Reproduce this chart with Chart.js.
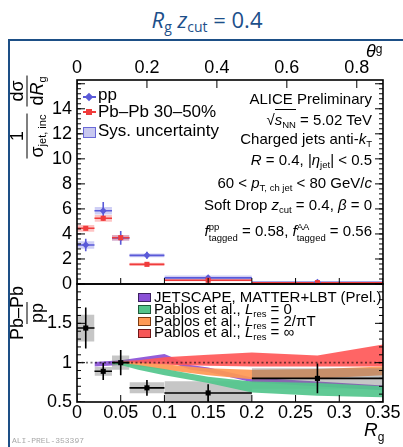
<!DOCTYPE html>
<html>
<head>
<meta charset="utf-8">
<script src="https://cdn.jsdelivr.net/npm/chart.js@4.4.1/dist/chart.umd.min.js"></script>
<style>
  html, body { margin: 0; padding: 0; background: #fff; }
  #stage { position: relative; width: 403px; height: 447px; overflow: hidden;
           font-family: "Liberation Sans", Arial, sans-serif; color: #000; }
  canvas { position: absolute; left: 0; }
  #cUp { top: 40px; }
  #cLo { top: 270px; }
  .t { position: absolute; white-space: nowrap; }
  .rule { position: absolute; background: #1d4f86; }
  #title { left: 207px; top: 4px; transform: translateX(-50%); font-family: "Open Sans", sans-serif;
           font-size: 22px; color: #1d4f8a; line-height: 30px; }
  #title sub { font-size: 14px; vertical-align: -4px; line-height: 0; }
  .ann { right: 31px; font-size: 15px; line-height: 15px; text-align: right; }
  .ann sub { font-size: 9.5px; vertical-align: -3px; line-height: 0; }
  .ss { display: inline-flex; flex-direction: column; font-size: 9.5px; line-height: 11px;
        vertical-align: 6px; text-align: left; }
  .sq { border-top: 1px solid #000; padding-top: 1px; }
  .legU { left: 98px; font-size: 17px; line-height: 17px; }
  .legL { left: 154px; font-size: 15px; line-height: 15px; }
  .legL sub { font-size: 9.5px; vertical-align: -3px; line-height: 0; }
  .swL { position: absolute; left: 138px; width: 13px; height: 9px; box-sizing: border-box; }
  .ytitle { position: absolute; transform: translate(-50%, -50%) rotate(-90deg); display: flex;
            align-items: center; gap: 7px; font-size: 18px; white-space: nowrap; }
  .frac { display: inline-flex; flex-direction: column; align-items: center; line-height: 19px; }
  .den { border-top: 1.3px solid #000; padding: 0 1px; }
  .ytitle sub { font-size: 11px; vertical-align: -3px; line-height: 0; }
  #wm { left: 12px; top: 436px; font-family: "Liberation Mono", monospace; font-size: 8px; color: #a8a8a8; }
</style>
</head>
<body>
<div id="stage">
  <div class="t" id="title"><i>R</i><sub>g</sub> <i>z</i><sub>cut</sub> = 0.4</div>
  <div class="rule" style="left:8px;top:39px;width:395px;height:2px;"></div>
  <div class="rule" style="left:8px;top:39px;width:2px;height:408px;"></div>

  <canvas id="cUp" width="403" height="250"></canvas>
  <canvas id="cLo" width="403" height="177"></canvas>

  <!-- top axis title -->
  <div class="t" style="left:366px;top:42px;font-size:18px;line-height:18px;"><i>θ</i><span style="font-size:12px;position:relative;top:-4px;">g</span></div>
  <!-- bottom axis title -->
  <div class="t" style="left:364px;top:420px;font-size:19px;line-height:19px;"><i>R</i><span style="font-size:12px;position:relative;top:5px;">g</span></div>

  <!-- y axis titles -->
  <div class="ytitle" style="left:27px;top:117px;">
    <span class="frac"><span>1</span><span class="den">σ<sub>jet, inc</sub></span></span>
    <span class="frac"><span>dσ</span><span class="den">d<i>R</i><sub>g</sub></span></span>
  </div>
  <div class="ytitle" style="left:27px;top:313px;">
    <span class="frac"><span>Pb–Pb</span><span class="den">pp</span></span>
  </div>

  <!-- upper legend -->
  <div class="t" style="left:83px;top:96px;width:13px;height:1.5px;background:#5a5ad8;"></div>
  <div class="t" style="left:86px;top:93.5px;width:6px;height:6px;background:#5a5ad8;transform:rotate(45deg);"></div>
  <div class="t legU" style="top:86px;">pp</div>
  <div class="t" style="left:83px;top:111px;width:13px;height:1.5px;background:#f03c3c;"></div>
  <div class="t" style="left:86px;top:109px;width:6px;height:6px;background:#f03c3c;"></div>
  <div class="t legU" style="top:103px;">Pb–Pb 30–50%</div>
  <div class="t" style="left:83px;top:127px;width:13px;height:11px;box-sizing:border-box;background:#c8c8f0;border:1px solid #6a6ad8;"></div>
  <div class="t legU" style="top:122px;">Sys. uncertainty</div>

  <!-- upper annotations -->
  <div class="t ann" style="top:91px;">ALICE Preliminary</div>
  <div class="t ann" style="top:112px;">√<span class="sq"><i>s</i><sub>NN</sub></span> = 5.02 TeV</div>
  <div class="t ann" style="top:131px;">Charged jets anti-<i>k</i><sub>T</sub></div>
  <div class="t ann" style="top:152px;"><i>R</i> = 0.4, |<i>η</i><sub>jet</sub>| &lt; 0.5</div>
  <div class="t ann" style="top:175px;">60 &lt; <i>p</i><sub>T, ch jet</sub> &lt; 80 GeV/<i>c</i></div>
  <div class="t ann" style="top:197px;">Soft Drop <i>z</i><sub>cut</sub> = 0.4, <i>β</i> = 0</div>
  <div class="t ann" style="top:221px;"><i>f</i><span class="ss"><span>pp</span><span>tagged</span></span> = 0.58, <i>f</i><span class="ss"><span>AA</span><span>tagged</span></span> = 0.56</div>

  <!-- lower legend -->
  <div class="swL" style="top:293px;background:#8a50d6;border:1px solid #3c2060;"></div>
  <div class="t legL" style="top:289px;">JETSCAPE, MATTER+LBT (Prel.)</div>
  <div class="swL" style="top:305px;background:#52c48a;border:1px solid #1f5a3a;"></div>
  <div class="t legL" style="top:301px;">Pablos et al., <i>L</i><sub>res</sub> = 0</div>
  <div class="swL" style="top:317px;background:#ff9a55;border:1px solid #7a3a10;"></div>
  <div class="t legL" style="top:312.5px;">Pablos et al., <i>L</i><sub>res</sub> = 2/πT</div>
  <div class="swL" style="top:329px;background:#f75757;border:1px solid #701818;"></div>
  <div class="t legL" style="top:324px;">Pablos et al., <i>L</i><sub>res</sub> = ∞</div>

  <div class="t" id="wm">ALI-PREL-353397</div>
</div>

<script>
// ---- binning (R_g) ----
const rgEdges   = [0, 0.02, 0.04, 0.06, 0.10, 0.20, 0.35];
const rgCenters = [0.01, 0.03, 0.05, 0.08, 0.15, 0.275];

// ---- distributions: 1/sigma dsigma/dRg ----
const ppValues   = [3.12, 5.85, 3.68, 2.29, 0.49, 0.13];
const ppStat     = [0.50, 0.70, 0.55, 0.28, 0.05, 0.02];
const ppSys      = [0.30, 0.30, 0.22, 0.15, 0.18, 0.04];
const pbpbValues = [4.45, 5.25, 3.70, 1.57, 0.30, 0.104];
const pbpbStat   = [0.16, 0.20, 0.16, 0.08, 0.03, 0.01];
const pbpbSys    = [0.27, 0.27, 0.22, 0.12, 0.08, 0.03];

// ---- Pb-Pb / pp ratio ----
const ratioValues = [1.44, 0.89, 1.00, 0.68, 0.615, 0.80];
const ratioStat   = [0.26, 0.11, 0.16, 0.10, 0.11, 0.19];
const ratioSys    = [0.17, 0.055, 0.09, 0.07, 0.15, 0.13];

// ---- model bands ----
const jetscapeX    = [0.02, 0.05, 0.10, 0.13, 0.15, 0.20, 0.35];
const jetscapeLow  = [0.95, 0.97, 1.03, 0.91, 0.88, 0.75, 0.65];
const jetscapeHigh = [1.01, 1.03, 1.11, 0.97, 0.94, 0.81, 0.71];

const pablosX       = [0.04, 0.05, 0.07, 0.10, 0.15, 0.20, 0.275, 0.35];
const pablosL0Low   = [0.98, 0.97, 0.91, 0.84, 0.74, 0.62, 0.58, 0.56];
const pablosL0High  = [1.01, 1.00, 0.97, 0.92, 0.82, 0.76, 0.74, 0.70];
const pablosL2Low   = [0.98, 0.97, 0.95, 0.91, 0.84, 0.79, 0.80, 0.84];
const pablosL2High  = [1.01, 1.01, 1.00, 0.98, 0.93, 0.91, 0.92, 0.95];
const pablosInfLow  = [0.99, 0.99, 0.985, 0.975, 0.96, 0.95, 0.95, 0.95];
const pablosInfHigh = [1.01, 1.02, 1.03, 1.07, 1.10, 1.13, 1.09, 1.23];

// ---- tick labels ----
const rgTicks     = [0, 0.05, 0.10, 0.15, 0.20, 0.25, 0.30, 0.35];
const thetaTicks  = [0, 0.2, 0.4, 0.6, 0.8];
const distTicks   = [0, 2, 4, 6, 8, 10, 12, 14];
const ratioTicks  = [0.5, 1, 1.5];

const FONT = { family: '"Liberation Sans", Arial, sans-serif', size: 18 };

// ---- dataset builders ----
function base(order) {
  return { type: 'line', order, pointRadius: 0, borderWidth: 0, showLine: true,
           spanGaps: false, xAxisID: 'x', yAxisID: 'y', tension: 0 };
}
function sysBoxes(vals, sys, color, order) {
  return vals.map((v, i) => Object.assign(base(order), {
    data: [{ x: rgEdges[i], y: v + sys[i] }, { x: rgEdges[i + 1], y: v + sys[i] }],
    fill: { value: v - sys[i] }, backgroundColor: color
  }));
}
function vBars(vals, err, color, width, order) {
  const d = [];
  vals.forEach((v, i) => {
    d.push({ x: rgCenters[i], y: v - err[i] }, { x: rgCenters[i], y: v + err[i] }, { x: rgCenters[i], y: null });
  });
  return Object.assign(base(order), { data: d, borderColor: color, borderWidth: width, fill: false });
}
function hBars(vals, color, width, order) {
  const d = [];
  vals.forEach((v, i) => {
    d.push({ x: rgEdges[i], y: v }, { x: rgEdges[i + 1], y: v }, { x: rgEdges[i + 1], y: null });
  });
  return Object.assign(base(order), { data: d, borderColor: color, borderWidth: width, fill: false });
}
function markers(vals, style, radius, color, order) {
  return Object.assign(base(order), {
    data: vals.map((v, i) => ({ x: rgCenters[i], y: v })), showLine: false,
    pointStyle: style, pointRadius: radius, pointBackgroundColor: color,
    pointBorderWidth: 0, fill: false
  });
}
function band(xs, lo, hi, color, order) {
  return [
    Object.assign(base(order), { data: xs.map((x, i) => ({ x, y: lo[i] })), fill: false }),
    Object.assign(base(order - 0.5), { data: xs.map((x, i) => ({ x, y: hi[i] })), fill: '-1', backgroundColor: color })
  ];
}

// ---- frame with inward ticks ----
const frameTicks = {
  id: 'frameTicks',
  afterDatasetsDraw(chart, args, opts) {
    const { ctx, chartArea: a } = chart;
    ctx.save();
    ctx.beginPath();
    ctx.rect(a.left, a.top, a.right - a.left, a.bottom - a.top);
    ctx.clip();
    ctx.strokeStyle = '#000';
    ctx.lineWidth = 1;
    ctx.beginPath();
    for (const m of opts.marks) {
      const s = chart.scales[m.scale];
      const n = Math.round((s.max - m.start) / m.step + 1e-6);
      for (let k = 0; k <= n; k++) {
        const v = m.start + k * m.step;
        const p = s.getPixelForValue(v);
        if (m.side === 'left')   { ctx.moveTo(a.left, p);   ctx.lineTo(a.left + m.len, p); }
        if (m.side === 'right')  { ctx.moveTo(a.right, p);  ctx.lineTo(a.right - m.len, p); }
        if (m.side === 'bottom') { ctx.moveTo(p, a.bottom); ctx.lineTo(p, a.bottom - m.len); }
        if (m.side === 'top')    { ctx.moveTo(p, a.top);    ctx.lineTo(p, a.top + m.len); }
      }
    }
    ctx.stroke();
    ctx.restore();
    ctx.save();
    ctx.strokeStyle = '#000';
    ctx.lineWidth = 1.6;
    ctx.strokeRect(a.left, a.top, a.right - a.left, a.bottom - a.top);
    ctx.restore();
  }
};

function fixedTicks(list) {
  return s => { s.ticks = list.map(v => ({ value: v })); };
}
function fixW(w) { return s => { s.width = w; s.paddingTop = 0; s.paddingBottom = 0; }; }
function fixH(h) { return s => { s.height = h; s.paddingLeft = 0; s.paddingRight = 0; }; }
const fmt = v => String(+v.toFixed(2));

// ---- upper panel: distributions ----
const upperSets = [].concat(
  sysBoxes(ppValues, ppSys, 'rgba(105,105,225,0.32)', 40),
  sysBoxes(pbpbValues, pbpbSys, 'rgba(250,70,70,0.32)', 39),
  [hBars(ppValues, '#5a5ad8', 1.6, 30), vBars(ppValues, ppStat, '#5a5ad8', 1.6, 29),
   hBars(pbpbValues, '#f03c3c', 1.6, 28), vBars(pbpbValues, pbpbStat, '#f03c3c', 1.6, 27),
   markers(ppValues, 'rectRot', 3.6, '#5a5ad8', 11),
   markers(pbpbValues, 'rect', 3.6, '#f03c3c', 10)]
);

new Chart(document.getElementById('cUp'), {
  type: 'line',
  data: { datasets: upperSets },
  options: {
    responsive: false, animation: false, events: [],
    layout: { padding: { left: 0, right: 20, top: 0, bottom: 0 } },
    plugins: {
      legend: { display: false }, tooltip: { enabled: false },
      frameTicks: { marks: [
        { scale: 'y', side: 'left', start: 0, step: 2, len: 8 },
        { scale: 'y', side: 'left', start: 0, step: 0.4, len: 4 },
        { scale: 'y', side: 'right', start: 0, step: 2, len: 8 },
        { scale: 'y', side: 'right', start: 0, step: 0.4, len: 4 },
        { scale: 'x', side: 'bottom', start: 0, step: 0.05, len: 6 },
        { scale: 'xt', side: 'top', start: 0, step: 0.2, len: 8 }
      ] }
    },
    scales: {
      x: { type: 'linear', position: 'bottom', min: 0, max: 0.35,
           grid: { display: false, drawTicks: false }, border: { display: false },
           ticks: { display: false }, afterFit: fixH(6) },
      xt: { type: 'linear', position: 'top', min: 0, max: 0.35 / 0.4,
            grid: { display: false, drawTicks: false }, border: { display: false },
            ticks: { font: FONT, color: '#000', padding: 1, maxRotation: 0, callback: fmt },
            afterBuildTicks: fixedTicks(thetaTicks), afterFit: fixH(40) },
      y: { type: 'linear', min: 0, max: 16.3,
           grid: { display: false, drawTicks: false }, border: { display: false },
           ticks: { font: FONT, color: '#000', padding: 5, callback: fmt },
           afterBuildTicks: fixedTicks(distTicks), afterFit: fixW(77) }
    }
  },
  plugins: [frameTicks]
});

// ---- lower panel: ratio and models ----
const unityLine = Object.assign(base(20), {
  data: [{ x: 0, y: 1 }, { x: 0.35, y: 1 }], borderColor: 'rgba(0,0,0,0.55)',
  borderWidth: 1.6, borderDash: [2, 2.5], fill: false
});
const lowerSets = [].concat(
  band(jetscapeX, jetscapeLow, jetscapeHigh, 'rgba(138,80,214,0.92)', 60),
  band(pablosX, pablosInfLow, pablosInfHigh, 'rgba(255,88,88,0.92)', 56),
  band(pablosX, pablosL2Low, pablosL2High, 'rgba(255,152,84,0.92)', 52),
  sysBoxes(ratioValues, ratioSys, 'rgba(120,120,120,0.42)', 48),
  band(pablosX, pablosL0Low, pablosL0High, 'rgba(82,198,140,0.92)', 44),
  [unityLine,
   hBars(ratioValues, '#000', 1.6, 15), vBars(ratioValues, ratioStat, '#000', 1.6, 14),
   markers(ratioValues, 'rect', 3.6, '#000', 10)]
);

new Chart(document.getElementById('cLo'), {
  type: 'line',
  data: { datasets: lowerSets },
  options: {
    responsive: false, animation: false, events: [],
    layout: { padding: { left: 0, right: 20, top: 14, bottom: 0 } },
    plugins: {
      legend: { display: false }, tooltip: { enabled: false },
      frameTicks: { marks: [
        { scale: 'y', side: 'left', start: 0.5, step: 0.5, len: 8 },
        { scale: 'y', side: 'left', start: 0.5, step: 0.1, len: 4 },
        { scale: 'y', side: 'right', start: 0.5, step: 0.5, len: 8 },
        { scale: 'y', side: 'right', start: 0.5, step: 0.1, len: 4 },
        { scale: 'x', side: 'bottom', start: 0, step: 0.05, len: 7 }
      ] }
    },
    scales: {
      x: { type: 'linear', position: 'bottom', min: 0, max: 0.35,
           grid: { display: false, drawTicks: false }, border: { display: false },
           ticks: { font: FONT, color: '#000', padding: 0, maxRotation: 0, callback: fmt },
           afterBuildTicks: fixedTicks(rgTicks), afterFit: fixH(45) },
      y: { type: 'linear', min: 0.5, max: 2.0,
           grid: { display: false, drawTicks: false }, border: { display: false },
           ticks: { font: FONT, color: '#000', padding: 5, callback: fmt },
           afterBuildTicks: fixedTicks(ratioTicks), afterFit: fixW(77) }
    }
  },
  plugins: [frameTicks]
});
</script>
</body>
</html>
